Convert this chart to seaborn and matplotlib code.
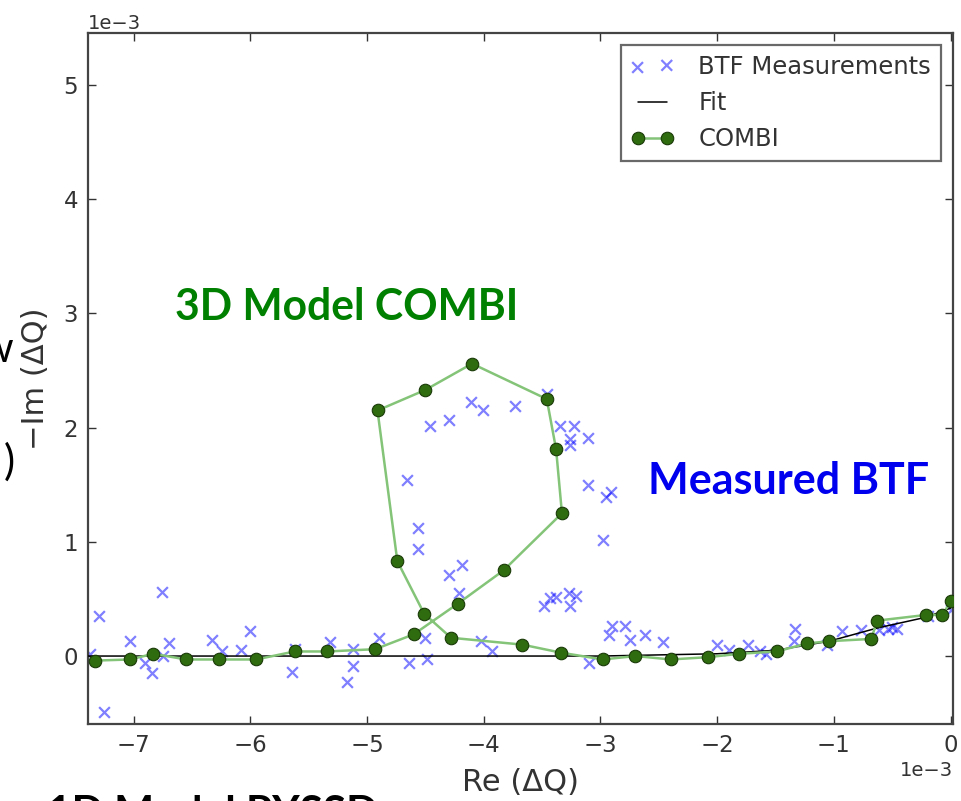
import matplotlib
matplotlib.use("Agg")
import matplotlib.pyplot as plt
import seaborn as sns
import pandas as pd

# Values are given in units of 1e-3 (the axes carry the 1e-3 offset)
SCALE = 1e-3

# BTF measurements: Re(dQ), -Im(dQ)
btf_re = [-7.37, -7.30, -7.25, -7.03, -6.90, -6.84, -6.76, -6.75, -6.70, -6.33,
          -6.24, -6.08, -6.00, -5.64, -5.62, -5.32, -5.12, -5.12, -5.17, -4.90,
          -4.64, -4.50, -4.49, -4.66, -4.56, -4.56, -4.30, -4.19, -4.21, -4.46,
          -4.30, -4.11, -4.01, -3.73, -3.46, -3.35, -3.23, -3.26, -3.26, -3.11,
          -3.11, -2.91, -2.95, -2.98, -3.48, -3.43, -3.38, -3.27, -3.21, -3.26,
          -2.93, -2.90, -2.79, -2.75, -2.62, -2.46, -4.02, -3.93, -3.10, -2.00,
          -1.90, -1.74, -1.63, -1.58, -1.33, -1.34, -1.06, -0.93, -0.77, -0.61,
          -0.54, -0.46, -0.50, -0.19, 0.00]
btf_im = [0.02, 0.35, -0.49, 0.13, -0.06, -0.15, 0.56, 0.00, 0.11, 0.14,
          0.04, 0.05, 0.22, -0.14, 0.06, 0.12, 0.06, -0.09, -0.23, 0.16,
          -0.06, 0.16, -0.03, 1.54, 1.12, 0.94, 0.71, 0.80, 0.55, 2.01,
          2.07, 2.22, 2.15, 2.19, 2.29, 2.01, 2.01, 1.90, 1.85, 1.91,
          1.50, 1.44, 1.39, 1.02, 0.44, 0.51, 0.52, 0.55, 0.53, 0.44,
          0.18, 0.26, 0.26, 0.14, 0.18, 0.12, 0.13, 0.04, -0.06, 0.10,
          0.05, 0.10, 0.04, 0.02, 0.24, 0.13, 0.10, 0.22, 0.23, 0.23,
          0.24, 0.24, 0.25, 0.35, 0.40]

# Fitted stability curve
fit_re = [-7.39, -3.00, -2.50, -2.00, -1.50, -1.04, -0.63, -0.21, 0.00]
fit_im = [0.00, 0.00, 0.01, 0.02, 0.05, 0.13, 0.245, 0.34, 0.42]

# COMBI simulation, in the order of the scanned frequencies
combi_re = [-7.33, -7.03, -6.83, -6.55, -6.27, -5.95, -5.62, -5.34, -4.93, -4.60,
            -4.22, -3.83, -3.33, -3.38, -3.46, -4.10, -4.50, -4.91, -4.74, -4.51,
            -4.28, -3.67, -3.34, -2.98, -2.70, -2.40, -2.08, -1.81, -1.49, -1.23,
            -1.04, -0.68, -0.63, -0.21, -0.07, 0.00]
combi_im = [-0.04, -0.03, 0.02, -0.03, -0.03, -0.03, 0.04, 0.04, 0.06, 0.19,
            0.46, 0.75, 1.25, 1.81, 2.25, 2.56, 2.33, 2.15, 0.83, 0.37,
            0.16, 0.10, 0.03, -0.03, 0.00, -0.03, -0.01, 0.02, 0.04, 0.11,
            0.13, 0.15, 0.31, 0.36, 0.36, 0.48]

btf = pd.DataFrame({"re": [v * SCALE for v in btf_re], "im": [v * SCALE for v in btf_im]})
fit = pd.DataFrame({"re": [v * SCALE for v in fit_re], "im": [v * SCALE for v in fit_im]})
combi = pd.DataFrame({"re": [v * SCALE for v in combi_re], "im": [v * SCALE for v in combi_im]})

sns.set_style("white")
plt.rcParams["font.family"] = ["DejaVu Sans"]

fig = plt.figure(figsize=(9.61, 8.01), dpi=100)
ax = fig.add_axes([88 / 961, 1 - 724 / 801, (953 - 88) / 961, (724 - 33) / 801])

sns.scatterplot(data=btf, x="re", y="im", marker="x", color="blue", alpha=0.5,
                s=60, linewidth=1.6, label="BTF Measurements", ax=ax, zorder=2)
sns.lineplot(data=fit, x="re", y="im", sort=False, estimator=None, color="black",
             linewidth=1.1, label="Fit", ax=ax, zorder=3)
sns.lineplot(data=combi, x="re", y="im", sort=False, estimator=None,
             color="#84c478", linewidth=1.8, marker="o", markersize=9,
             markerfacecolor="#2f6b0f", markeredgecolor="#1a3a08",
             markeredgewidth=0.8, label="COMBI", ax=ax, zorder=4)

ax.set_xlim(-7.39 * SCALE, 0.02 * SCALE)
ax.set_ylim(-0.595 * SCALE, 5.455 * SCALE)
ax.set_xticks([v * SCALE for v in [-7, -6, -5, -4, -3, -2, -1, 0]])
ax.set_yticks([v * SCALE for v in [0, 1, 2, 3, 4, 5]])

ax.tick_params(direction="in", length=6, width=1.0, labelsize=16.5,
               labelcolor="#333333", color="#333333",
               top=True, right=True, bottom=True, left=True, pad=7)
for sp in ax.spines.values():
    sp.set_color("#444444")
    sp.set_linewidth(1.6)

ax.ticklabel_format(style="sci", axis="both", scilimits=(0, 0))
for off in (ax.xaxis.get_offset_text(), ax.yaxis.get_offset_text()):
    off.set_fontsize(14)
    off.set_color("#333333")

ax.set_xlabel("Re (ΔQ)", fontsize=22, color="#333333", labelpad=8)
ax.set_ylabel("−Im (ΔQ)", fontsize=22, color="#333333", labelpad=10)

leg = ax.legend(loc="upper right", scatterpoints=2, numpoints=2, fontsize=17.5,
                frameon=True, fancybox=False, edgecolor="#444444",
                handlelength=1.8, borderpad=0.4, labelspacing=0.5,
                handletextpad=1.0, borderaxespad=0.5)
leg.get_frame().set_linewidth(1.6)
for t in leg.get_texts():
    t.set_color("#333333")

# Slide annotations
ax.text(0.1006, 0.604, "3D Model COMBI", transform=ax.transAxes, color="#008000",
        fontsize=30.7, fontweight="bold", family=["Lato", "DejaVu Sans"], va="center")
ax.text(0.647, 0.352, "Measured BTF", transform=ax.transAxes, color="#0000ee",
        fontsize=31, fontweight="bold", family=["Lato", "DejaVu Sans"], va="center")

fig.text(13 / 961, 1 - 362 / 801, "w", color="black", fontsize=30,
         family=["Lato", "DejaVu Sans"], ha="right", va="baseline")
fig.text(15 / 961, 1 - 475 / 801, ")", color="black", fontsize=30,
         family=["Lato", "DejaVu Sans"], ha="right", va="baseline")
fig.text(47 / 961, 1 - 826 / 801, "1D Model PYSSD", color="black", fontsize=30.5,
         fontweight="bold", family=["Lato", "DejaVu Sans"], ha="left", va="baseline")

fig.savefig("out.png", dpi=100)
